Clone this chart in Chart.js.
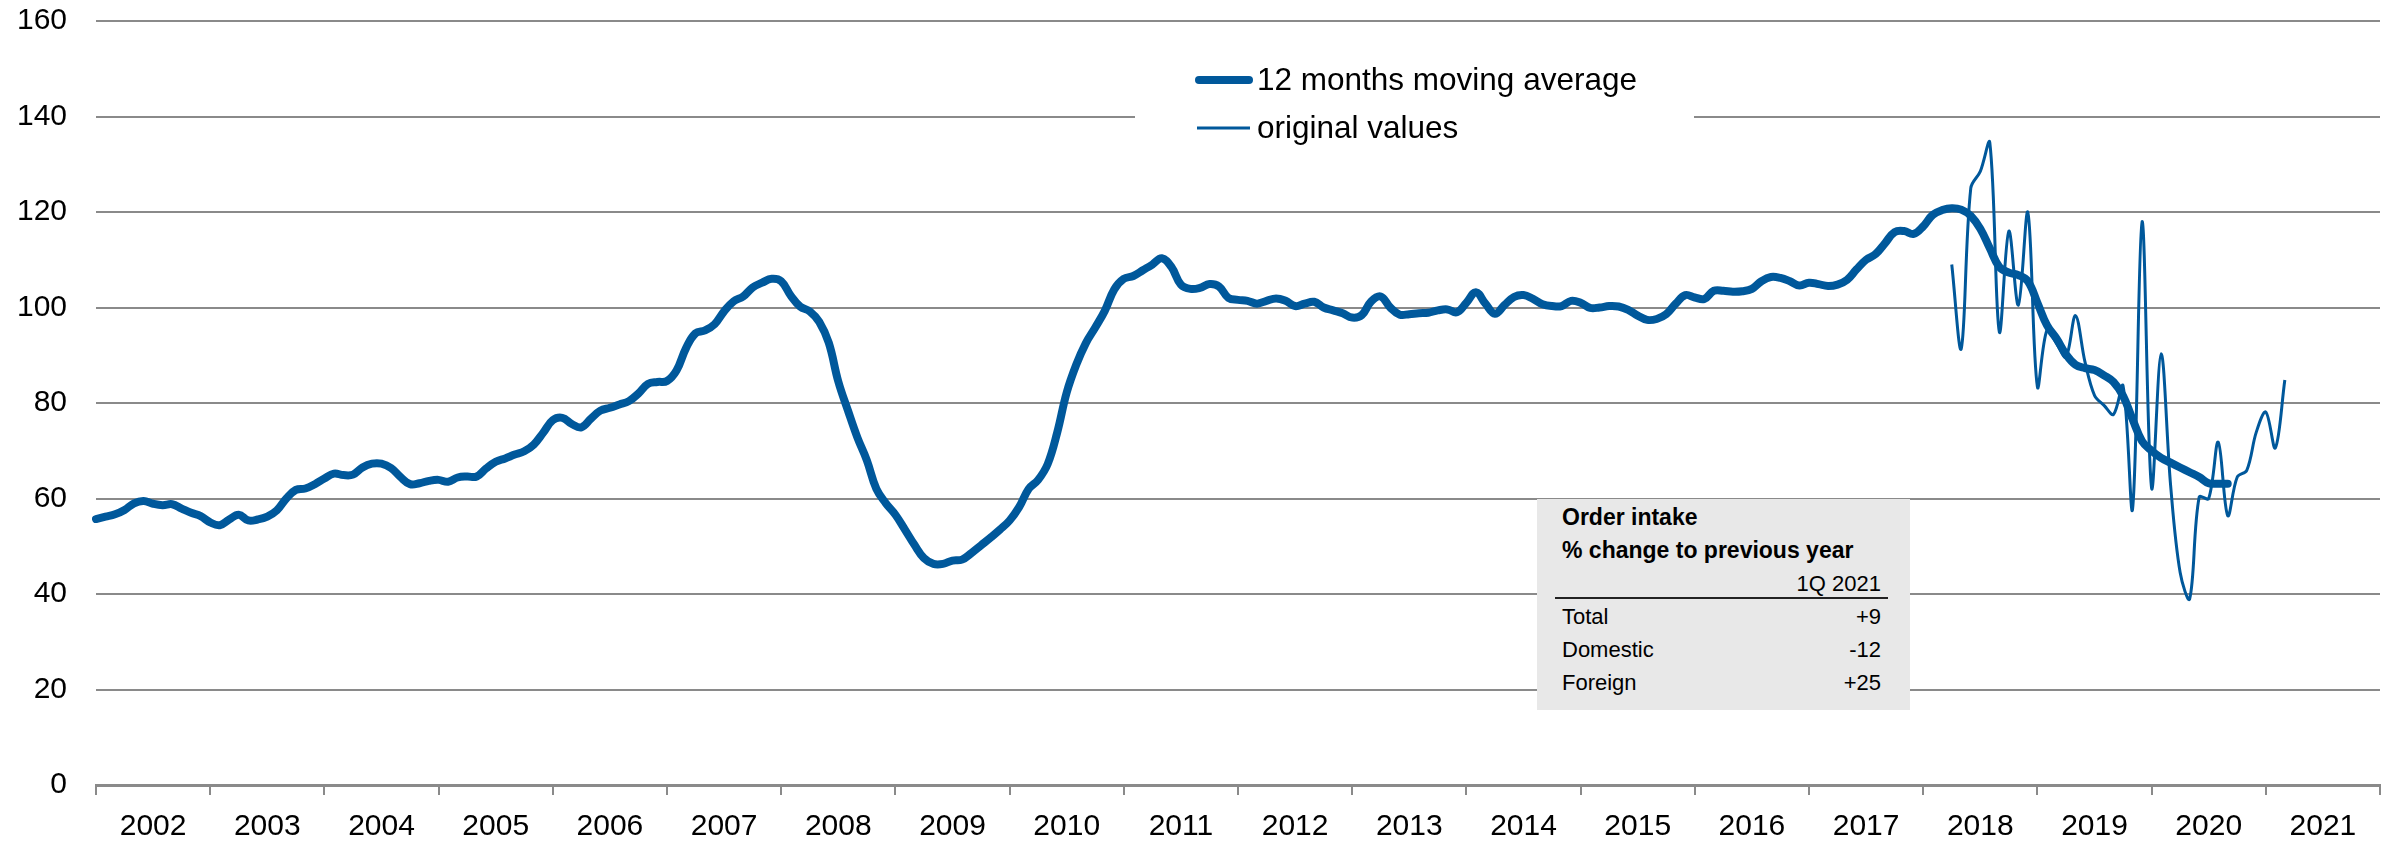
<!DOCTYPE html>
<html>
<head>
<meta charset="utf-8">
<script src="https://cdn.jsdelivr.net/npm/chart.js@4.4.1/dist/chart.umd.min.js"></script>
<style>
  html, body { margin: 0; padding: 0; background: #fff; }
  #wrap { position: relative; width: 2389px; height: 845px; }
  #box {
    position: absolute; left: 1537px; top: 499px; width: 373px; height: 211px;
    background: #e8e8e8; box-sizing: border-box; padding: 1.5px 29px 0 25px;
    font-family: "Liberation Sans", Arial, sans-serif; font-size: 22px; line-height: 33px; color: #000;
  }
  #box .b { font-weight: bold; font-size: 23px; }
  #box .r { display: flex; justify-content: space-between; }
  #box .rule { position: absolute; left: 18px; top: 98px; width: 333px; height: 2px; background: #222; }
</style>
</head>
<body>
<div id="wrap">
  <canvas id="chart" width="2389" height="845"></canvas>
  <div id="box">
    <div class="b">Order intake</div>
    <div class="b">% change to previous year</div>
    <div class="r"><span></span><span>1Q 2021</span></div>
    <div class="rule"></div>
    <div class="r"><span>Total</span><span>+9</span></div>
    <div class="r"><span>Domestic</span><span>-12</span></div>
    <div class="r"><span>Foreign</span><span>+25</span></div>
  </div>
</div>
<script>
// monthly categories Jan 2002 .. Jan 2022
const firstYear = 2002;
const lastYear = 2022;
const months = [];
for (let y = firstYear; y <= lastYear; y++) {
  for (let m = 1; m <= 12; m++) {
    if (y === lastYear && m > 1) break;
    months.push(y + '-' + String(m).padStart(2, '0'));
  }
}

// 12 months moving average, from 2002-01
const maStart = '2002-01';
const maValues = [
  55.7, 56.2, 56.7, 57.6, 59.0, 59.5, 58.9, 58.6, 58.8, 57.9, 57.0, 56.3,
  55.0, 54.4, 55.6, 56.6, 55.4, 55.6, 56.2, 57.5, 60.0, 61.8, 62.1, 63.0,
  64.2, 65.2, 64.9, 65.0, 66.5, 67.3, 67.3, 66.4, 64.5, 63.0, 63.2, 63.7,
  63.9, 63.5, 64.4, 64.6, 64.6, 66.3, 67.7, 68.4, 69.2, 69.9, 71.3, 73.8,
  76.4, 76.9, 75.6, 74.9, 76.7, 78.4, 79.0, 79.7, 80.4, 82.0, 84.0, 84.4,
  84.6, 86.8, 91.5, 94.6, 95.2, 96.5, 99.2, 101.3, 102.3, 104.2, 105.2, 106.0,
  105.5, 102.5, 100.2, 99.2, 97.0, 92.6, 84.5, 78.5, 72.8, 68.0, 62.0, 59.0,
  56.6, 53.5, 50.3, 47.5, 46.3, 46.3, 47.0, 47.2, 48.6, 50.2, 51.8, 53.5,
  55.4, 58.2, 62.0, 63.9, 67.2, 73.8, 82.2, 88.0, 92.5, 95.8, 99.3, 103.8,
  106.0, 106.6, 107.8, 109.0, 110.3, 108.5, 104.8, 103.9, 104.1, 104.9, 104.4, 102.0,
  101.6, 101.4, 100.8, 101.4, 101.9, 101.4, 100.3, 100.8, 101.2, 100.0, 99.4, 98.8,
  97.9, 98.4, 101.3, 102.3, 100.0, 98.5, 98.6, 98.8, 98.9, 99.4, 99.6, 99.0,
  101.0, 103.2, 100.8, 98.7, 100.5, 102.2, 102.6, 101.8, 100.7, 100.3, 100.3, 101.4,
  101.0, 99.9, 100.0, 100.3, 100.2, 99.5, 98.3, 97.4, 97.6, 98.6, 100.8, 102.6,
  102.1, 101.8, 103.5, 103.5, 103.3, 103.4, 103.9, 105.5, 106.4, 106.2, 105.5, 104.6,
  105.2, 104.9, 104.5, 104.8, 105.8, 108.0, 110.0, 111.2, 113.5, 115.8, 116.0, 115.4,
  117.0, 119.4, 120.4, 120.8, 120.5, 119.2, 116.5, 112.4, 108.5, 107.3, 106.8, 105.5,
  101.0, 96.3, 93.5, 90.2, 88.0, 87.3, 86.9, 85.8, 84.4, 81.5, 76.6, 72.0,
  70.0, 68.5, 67.5, 66.5, 65.5, 64.5, 63.2, 63.1, 63.1
];

// original monthly values, from 2018-04
const origStart = '2018-04';
const origValues = [
  109.0, 91.4, 125.0, 128.5, 134.5, 94.9, 116.0, 100.5, 119.9,
  83.4, 95.2, 92.5, 89.6, 98.3, 88.6, 81.6, 79.5, 77.6, 83.6, 57.8, 118.0,
  62.2, 90.3, 62.7, 44.5, 39.0, 60.3, 60.0, 71.8, 56.4, 64.5, 65.9, 73.9,
  78.1, 70.6, 84.8
];

const seriesNames = ['12 months moving average', 'original values'];

function place(start, values) {
  const out = new Array(months.length).fill(null);
  const s = months.indexOf(start);
  values.forEach((v, i) => { out[s + i] = v; });
  return out;
}

const blue = '#00589b';
const gridGray = '#8a8a8a';
const font = '"Liberation Sans", Arial, sans-serif';

const legendBox = {
  id: 'legendBox',
  afterDraw(chart) {
    const ctx = chart.ctx;
    ctx.save();
    ctx.fillStyle = '#fff';
    ctx.fillRect(1135, 56, 559, 96);
    chart.data.datasets.forEach((ds, k) => {
      const y = 80 + k * 48;
      ctx.strokeStyle = ds.borderColor;
      ctx.lineWidth = ds.borderWidth;
      ctx.lineCap = ds.borderCapStyle;
      ctx.beginPath();
      if (ds.borderCapStyle === 'round') { ctx.moveTo(1199, y); ctx.lineTo(1249, y); }
      else { ctx.moveTo(1197, y); ctx.lineTo(1250, y); }
      ctx.stroke();
      ctx.fillStyle = '#000';
      ctx.font = '31.5px ' + font;
      ctx.textBaseline = 'middle';
      ctx.fillText(ds.label, 1257, y + 1);
    });
    ctx.restore();
  }
};

new Chart(document.getElementById('chart'), {
  type: 'line',
  data: {
    labels: months,
    datasets: [
      {
        label: seriesNames[0], data: place(maStart, maValues),
        borderColor: blue, borderWidth: 8, borderCapStyle: 'round', borderJoinStyle: 'round',
        pointRadius: 0, tension: 0.4, fill: false
      },
      {
        label: seriesNames[1], data: place(origStart, origValues),
        borderColor: blue, borderWidth: 3, borderCapStyle: 'butt', borderJoinStyle: 'round',
        pointRadius: 0, tension: 0.35, fill: false
      }
    ]
  },
  options: {
    responsive: false,
    animation: false,
    layout: { padding: { left: 17, right: 9, top: 21, bottom: 0 } },
    plugins: { legend: { display: false }, tooltip: { enabled: false } },
    scales: {
      x: {
        offset: false,
        grid: {
          drawOnChartArea: false, drawTicks: true, tickLength: 10, lineWidth: 2,
          color: c => (c.index === undefined || c.index % 12 === 0) ? gridGray : 'rgba(0,0,0,0)'
        },
        border: { display: true, color: gridGray, width: 3 },
        ticks: {
          autoSkip: false, maxRotation: 0, minRotation: 0, padding: 14, color: '#000',
          font: { family: font, size: 30 },
          callback: (v, i) => i % 12 === 6 ? months[i].slice(0, 4) : ''
        },
        afterFit: s => { s.height = 60; s.paddingLeft = 0; s.paddingRight = 0; }
      },
      y: {
        min: 0, max: 160,
        grid: { color: gridGray, lineWidth: 2, drawTicks: false },
        border: { display: false },
        ticks: { stepSize: 20, padding: 29, color: '#000', font: { family: font, size: 30 } },
        afterFit: s => { s.width = 79; s.paddingTop = 0; s.paddingBottom = 0; }
      }
    }
  },
  plugins: [legendBox]
});
</script>
</body>
</html>
